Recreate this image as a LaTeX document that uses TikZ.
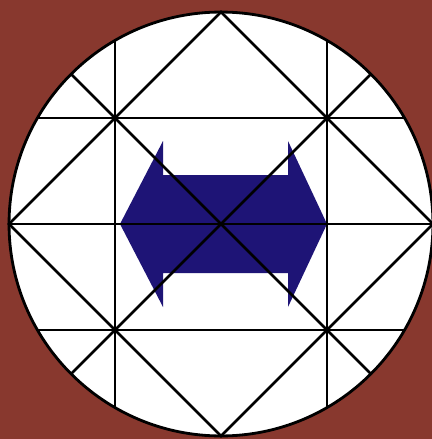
\documentclass[tikz,border=0pt]{standalone}
\usepackage{xcolor}
\usepackage{tikz}
\usetikzlibrary{calc}

\definecolor{bgbrown}{RGB}{136,56,46}
\definecolor{arrownavy}{RGB}{30,20,118}

\begin{document}
\begin{tikzpicture}[
    x=0.02cm, y=-0.02cm,
    ln/.style={draw=black, line width=1.6pt},
    dblarrow/.style={fill=arrownavy, draw=none}
]
    \fill [bgbrown] (0,0) rectangle (432,439);
    \useasboundingbox (0,0) rectangle (432,439);

    \coordinate (c) at (221,224);
    \fill [white] (c) circle [radius=4.24cm];

    % double arrow
    \fill [dblarrow] ($(c)+(-101,0)$) -- ($(c)+(-58,-83)$) -- ($(c)+(-58,-49)$)
        -- ($(c)+(67,-49)$) -- ($(c)+(67,-83)$) -- ($(c)+(106,0)$)
        -- ($(c)+(67,83)$) -- ($(c)+(67,49)$) -- ($(c)+(-58,49)$)
        -- ($(c)+(-58,83)$) -- cycle;

    % chords
    \foreach \a/\b in {0/180,45/225,135/315,30/150,210/330,60/300,120/240}
        \draw [ln] ($(c)+(\a:212)$) -- ($(c)+(\b:212)$);

    % square
    \draw [ln] ($(c)+(0:212)$) -- ($(c)+(90:212)$) -- ($(c)+(180:212)$)
        -- ($(c)+(270:212)$) -- cycle;

    \draw [ln] (c) circle [radius=4.24cm];
\end{tikzpicture}
\end{document}
